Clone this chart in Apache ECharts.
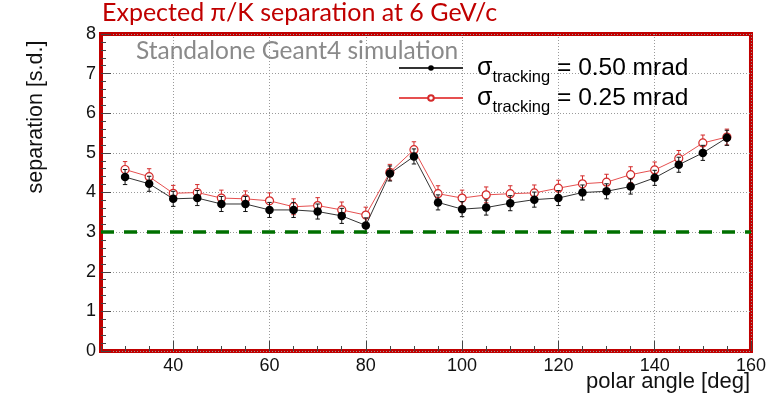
<!DOCTYPE html>
<html>
<head>
<meta charset="utf-8">
<script src="https://cdn.jsdelivr.net/npm/echarts@6/dist/echarts.min.js"></script>
<style>
  html, body { margin: 0; padding: 0; background: #fff; }
  #chart { width: 769px; height: 397px; }
</style>
</head>
<body>
<div id="chart"></div>
<script>
// Polar angles of the simulated points (deg)
const angles = [30, 35, 40, 45, 50, 55, 60, 65, 70, 75, 80, 85, 90, 95, 100, 105, 110, 115, 120, 125, 130, 135, 140, 145, 150, 155];
// pi/K separation (s.d.) for tracking resolution 0.50 mrad
const sep050 = [4.39, 4.22, 3.84, 3.86, 3.71, 3.71, 3.56, 3.56, 3.52, 3.41, 3.17, 4.48, 4.91, 3.75, 3.58, 3.62, 3.73, 3.82, 3.86, 4.00, 4.03, 4.15, 4.37, 4.70, 5.00, 5.38];
const err050 = [0.19, 0.19, 0.19, 0.19, 0.19, 0.19, 0.19, 0.19, 0.19, 0.19, 0.19, 0.19, 0.19, 0.19, 0.19, 0.19, 0.19, 0.19, 0.19, 0.19, 0.19, 0.19, 0.19, 0.19, 0.19, 0.19];
// pi/K separation (s.d.) for tracking resolution 0.25 mrad
const sep025 = [4.58, 4.40, 3.98, 4.00, 3.86, 3.84, 3.79, 3.64, 3.67, 3.56, 3.43, 4.51, 5.08, 3.97, 3.86, 3.94, 3.97, 3.99, 4.11, 4.22, 4.26, 4.45, 4.57, 4.86, 5.25, 5.40];
const err025 = [0.20, 0.20, 0.20, 0.20, 0.20, 0.20, 0.20, 0.20, 0.20, 0.20, 0.20, 0.20, 0.20, 0.20, 0.20, 0.20, 0.20, 0.20, 0.20, 0.20, 0.20, 0.20, 0.20, 0.20, 0.20, 0.20];
// Major x tick labels and the 3 s.d. reference level
const xMajorTicks = [40, 60, 80, 100, 120, 140, 160];
const threshold = 3;

const chart = echarts.init(document.getElementById('chart'), null, { renderer: 'canvas' });

function errorBars(vals, errs, color, z) {
  return {
    type: 'custom',
    xAxisIndex: 0,
    yAxisIndex: 0,
    z: z,
    silent: true,
    data: angles.map((a, i) => [a, vals[i], errs[i]]),
    encode: { x: 0, y: 1 },
    renderItem: function (params, api) {
      const x = api.value(0), y = api.value(1), e = api.value(2);
      const top = api.coord([x, y + e]);
      const bot = api.coord([x, y - e]);
      const cap = 2.2;
      const st = { stroke: color, lineWidth: 1 };
      return {
        type: 'group',
        children: [
          { type: 'line', shape: { x1: top[0], y1: top[1], x2: bot[0], y2: bot[1] }, style: st },
          { type: 'line', shape: { x1: top[0] - cap, y1: top[1], x2: top[0] + cap, y2: top[1] }, style: st },
          { type: 'line', shape: { x1: bot[0] - cap, y1: bot[1], x2: bot[0] + cap, y2: bot[1] }, style: st }
        ]
      };
    }
  };
}

const legendRich = {
  s: { fontFamily: 'Liberation Sans', fontSize: 25, color: '#000', lineHeight: 28, padding: [0, 0, 0, 9] },
  sub: { fontFamily: 'Liberation Sans', fontSize: 16.5, color: '#000', lineHeight: 18, padding: [19, 0, 0, 0] },
  t: { fontFamily: 'Liberation Sans', fontSize: 24.5, color: '#000', lineHeight: 28 }
};

const option = {
  animation: false,
  backgroundColor: '#fff',
  grid: {
    left: 101, right: 17, top: 34, bottom: 46,
    show: true, borderColor: '#c00000', borderWidth: 4,
    backgroundColor: 'transparent'
  },
  xAxis: [
    {
      type: 'value', min: 25, max: 160,
      axisLine: { show: false },
      axisTick: { show: true, inside: true, length: 10, customValues: xMajorTicks, lineStyle: { color: '#444' } },
      axisLabel: { customValues: xMajorTicks, fontFamily: 'Liberation Sans', fontSize: 18, color: '#111', margin: 6 },
      splitLine: { show: true, lineStyle: { color: '#9a9a9a', type: [1, 2], width: 1 } }
    },
    {
      type: 'value', min: 25, max: 160, interval: 5,
      position: 'bottom',
      axisLine: { show: false },
      axisTick: { show: true, inside: true, length: 5, lineStyle: { color: '#444' } },
      axisLabel: { show: false },
      splitLine: { show: false }
    }
  ],
  yAxis: {
    type: 'value', min: 0, max: 8, interval: 1,
    axisLine: { show: false },
    axisTick: { show: true, inside: true, length: 10, lineStyle: { color: '#444' } },
    minorTick: { show: true, splitNumber: 5, length: 5, lineStyle: { color: '#444' } },
    axisLabel: { fontFamily: 'Liberation Sans', fontSize: 18, color: '#111', margin: 5 },
    splitLine: { show: true, lineStyle: { color: '#9a9a9a', type: [1, 2], width: 1 } }
  },
  legend: {
    left: 398, top: 50, padding: 0,
    orient: 'vertical',
    itemWidth: 64, itemHeight: 7, itemGap: -6,
    data: ['σ0.50', 'σ0.25'],
    formatter: function (name) {
      return name === 'σ0.50'
        ? '{s|σ}{sub|tracking}{t| = 0.50 mrad}'
        : '{s|σ}{sub|tracking}{t| = 0.25 mrad}';
    },
    textStyle: { rich: legendRich }
  },
  graphic: [
    {
      type: 'text', left: 102, top: 0, silent: true,
      style: { text: 'Expected π/K separation at 6 GeV/c', fontFamily: 'Lato', fontSize: 25, fill: '#c00000' }
    },
    {
      type: 'text', left: 136, top: 39, silent: true, z: 5,
      style: { text: 'Standalone Geant4 simulation', fontFamily: 'Lato', fontSize: 24.5, fill: '#8a8a8a' }
    },
    {
      type: 'text', x: 36, y: 117, rotation: Math.PI / 2, silent: true,
      style: { text: 'separation [s.d.]', fontFamily: 'Liberation Sans', fontSize: 21.5, fill: '#111', align: 'center', verticalAlign: 'middle' }
    },
    {
      type: 'text', right: 19, top: 371, silent: true,
      style: { text: 'polar angle [deg]', fontFamily: 'Liberation Sans', fontSize: 22, fill: '#111' }
    }
  ],
  series: [
    errorBars(sep025, err025, '#d42a2a', 2),
    {
      name: 'σ0.25',
      type: 'line',
      xAxisIndex: 0, yAxisIndex: 0,
      z: 3,
      data: angles.map((a, i) => [a, sep025[i]]),
      symbol: 'circle',
      symbolSize: 8,
      itemStyle: { color: '#ffffff', borderColor: '#d42a2a', borderWidth: 1.2 },
      lineStyle: { color: '#e65050', width: 1 },
      emphasis: { disabled: true }
    },
    errorBars(sep050, err050, '#111', 4),
    {
      name: 'σ0.50',
      type: 'line',
      xAxisIndex: 0, yAxisIndex: 0,
      z: 5,
      data: angles.map((a, i) => [a, sep050[i]]),
      symbol: 'circle',
      symbolSize: 8.5,
      itemStyle: { color: '#000' },
      lineStyle: { color: '#333', width: 1 },
      emphasis: { disabled: true },
      markLine: {
        silent: true,
        symbol: ['none', 'none'],
        label: { show: false },
        lineStyle: { color: '#007000', width: 3.5, type: [13, 10] },
        data: [{ yAxis: threshold }]
      }
    }
  ]
};

chart.setOption(option);
</script>
</body>
</html>
